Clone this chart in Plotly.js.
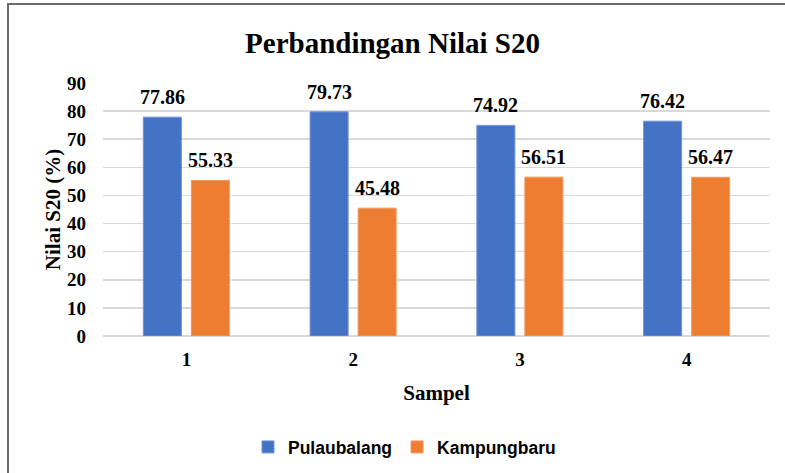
<!DOCTYPE html>
<html>
<head>
<meta charset="utf-8">
<script src="https://cdn.plot.ly/plotly-3.0.1.min.js"></script>
<style>
html,body{margin:0;padding:0;background:#fff;}
#frame{position:absolute;left:7px;top:3px;width:900px;height:600px;border-left:2px solid #6b6b6b;border-top:2px solid #6b6b6b;}
#chart{position:absolute;left:0;top:0;width:785px;height:473px;}
</style>
</head>
<body>
<div id="frame"></div>
<div id="chart"></div>
<script>
const categories = ['1', '2', '3', '4'];
const pulaubalang = [77.86, 79.73, 74.92, 76.42];
const kampungbaru = [55.33, 45.48, 56.51, 56.47];
const seriesNames = ['Pulaubalang', 'Kampungbaru'];
const yTicks = [0, 10, 20, 30, 40, 50, 60, 70, 80, 90];

const serif = 'Liberation Serif, Times New Roman, serif';
const labelFont = {family: serif, size: 20, color: '#000', weight: 'bold'};

const traces = [
  {type: 'bar', name: '<b>' + seriesNames[0] + '</b>', x: categories, y: pulaubalang,
   marker: {color: '#4472C4', line: {color: '#6f93d6', width: 1}}},
  {type: 'bar', name: '<b>' + seriesNames[1] + '</b>', x: categories, y: kampungbaru,
   marker: {color: '#ED7D31', line: {color: '#f29a5e', width: 1}}}
];

const annotations = [];
[pulaubalang, kampungbaru].forEach((vals, si) => {
  vals.forEach((v, i) => {
    annotations.push({x: i, y: v, xref: 'x', yref: 'y',
      text: v.toFixed(2), showarrow: false, yanchor: 'middle',
      xshift: si === 0 ? -24 : 24, yshift: 20, font: labelFont});
  });
});

const layout = {
  width: 785, height: 473,
  paper_bgcolor: 'rgba(0,0,0,0)', plot_bgcolor: 'rgba(0,0,0,0)',
  margin: {l: 103, r: 15, t: 83, b: 137, autoexpand: false},
  title: {text: '<b>Perbandingan Nilai S20</b>', x: 0.5, xanchor: 'center', y: 0.91, yanchor: 'middle',
    font: {family: serif, size: 29, color: '#000'}},
  barmode: 'group', bargap: 0.424, bargroupgap: 0.208,
  xaxis: {type: 'category', range: [-0.5, 3.5], showgrid: false, zeroline: false, showline: false, ticks: '',
    ticklabelstandoff: 10, automargin: false,
    tickfont: {family: serif, size: 19, color: '#000', weight: 'bold'},
    title: {text: '<b>Sampel</b>', font: {family: serif, size: 21, color: '#000'}, standoff: 16}},
  yaxis: {range: [0, 90], tickvals: yTicks, ticktext: yTicks.map(String), showgrid: true,
    gridcolor: '#d9d9d9', gridwidth: 1.5, zeroline: true, zerolinecolor: '#d9d9d9', zerolinewidth: 1.5,
    showline: false, ticks: '', ticklabelstandoff: 16, automargin: false,
    tickfont: {family: serif, size: 19, color: '#000', weight: 'bold'},
    title: {text: '<b>Nilai S20 (%)</b>', font: {family: serif, size: 21, color: '#000'}, standoff: 0}},
  legend: {orientation: 'h', x: 0.452, xanchor: 'center', y: -0.439, yanchor: 'middle',
    font: {family: 'Liberation Sans, Arial, sans-serif', size: 17.5, color: '#000'},
    itemwidth: 30, traceorder: 'normal'},
  annotations: annotations,
  showlegend: true
};

Plotly.newPlot('chart', traces, layout, {displayModeBar: false, staticPlot: true});
</script>
</body>
</html>
